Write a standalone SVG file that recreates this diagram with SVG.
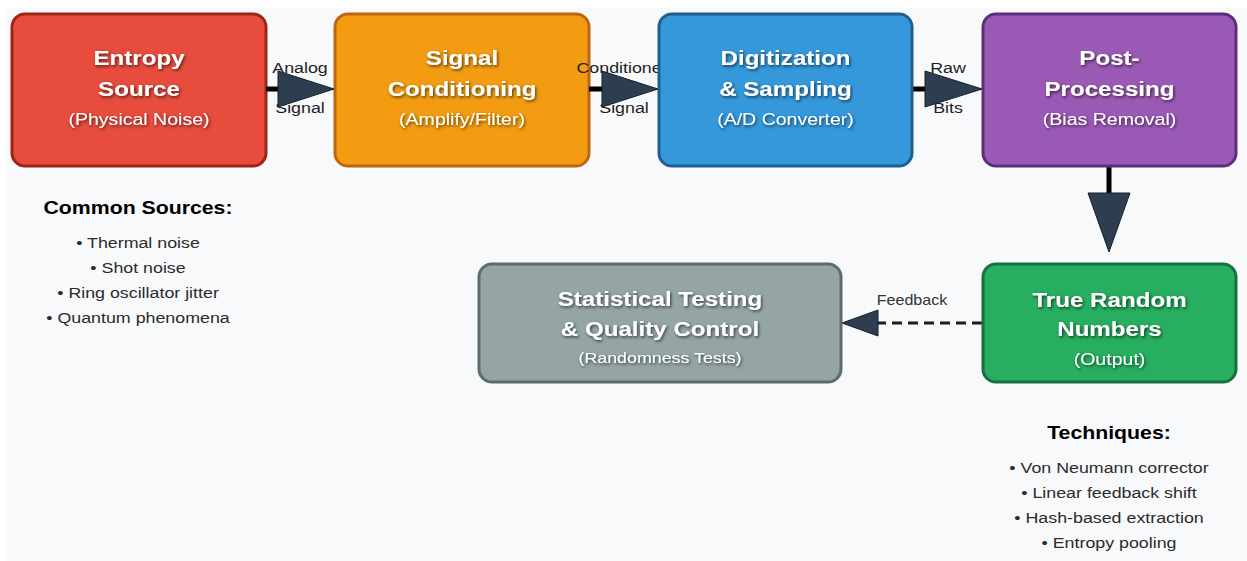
<svg xmlns="http://www.w3.org/2000/svg" width="1247" height="561" viewBox="0 0 1247 561">
  <defs>
    <filter id="txtShadow" x="-20%" y="-40%" width="140%" height="180%">
      <feDropShadow dx="1" dy="1.5" stdDeviation="1.4" flood-color="#000" flood-opacity="0.65"/>
    </filter>
    <style>
      .box { stroke-width: 3; }
      .title { font-family: "Liberation Sans", Arial, sans-serif; font-weight: bold; font-size: 21px; fill: #ffffff; text-anchor: middle; filter: url(#txtShadow); }
      .sub { font-family: "Liberation Sans", Arial, sans-serif; font-size: 17px; fill: #ffffff; text-anchor: middle; filter: url(#txtShadow); }
      .lbl { font-family: "Liberation Sans", Arial, sans-serif; font-size: 15.5px; fill: #1e1e1e; text-anchor: middle; }
      .fb { font-family: "Liberation Sans", Arial, sans-serif; font-size: 14px; fill: #333; text-anchor: middle; }
      .head { font-family: "Liberation Sans", Arial, sans-serif; font-weight: bold; font-size: 18.5px; fill: #000; text-anchor: middle; }
      .item { font-family: "Liberation Sans", Arial, sans-serif; font-size: 15.5px; fill: #2b2b2b; text-anchor: middle; }
      .wire { stroke: #000; stroke-width: 5; fill: none; }
      .dash { stroke: #1c1c1c; stroke-width: 3; stroke-dasharray: 10 6; fill: none; }
      .head-tri { fill: #2c3e50; stroke: #17202a; stroke-width: 1; stroke-linejoin: round; }
    </style>
  </defs>

  <!-- canvas -->
  <rect x="0" y="0" width="1247" height="561" fill="#ffffff"/>
  <rect x="6" y="8" width="1241" height="553" fill="#f8f9fa"/>

  <!-- Entropy source -->
  <g id="entropy-source">
    <rect class="box" x="12" y="14" width="254" height="152" rx="13" fill="#e74c3c" stroke="#9e2418"/>
    <text class="title" transform="translate(139,65) scale(1.15,1)">Entropy</text>
    <text class="title" transform="translate(139,96) scale(1.15,1)">Source</text>
    <text class="sub" transform="translate(139,125) scale(1.15,1)">(Physical Noise)</text>
  </g>

  <!-- Signal conditioning -->
  <g id="signal-conditioning">
    <rect class="box" x="335" y="14" width="254" height="152" rx="13" fill="#f39c12" stroke="#c0650f"/>
    <text class="title" transform="translate(462,65) scale(1.15,1)">Signal</text>
    <text class="title" transform="translate(462,96) scale(1.15,1)">Conditioning</text>
    <text class="sub" transform="translate(462,125) scale(1.15,1)">(Amplify/Filter)</text>
  </g>

  <!-- Connectors -->
  <g id="connectors">
    <text class="lbl" transform="translate(300,73) scale(1.15,1)">Analog</text>
    <text class="lbl" transform="translate(300,113) scale(1.15,1)">Signal</text>
    <text class="lbl" transform="translate(624,73) scale(1.15,1)">Conditioned</text>
    <text class="lbl" transform="translate(624,113) scale(1.15,1)">Signal</text>
    <text class="lbl" transform="translate(948,73) scale(1.15,1)">Raw</text>
    <text class="lbl" transform="translate(948,113) scale(1.15,1)">Bits</text>
    <text class="fb" transform="translate(912,305) scale(1.15,1)">Feedback</text>

    <line class="wire" x1="266" y1="89" x2="282" y2="89"/>
    <polygon class="head-tri" points="278,71 334,89 278,107"/>

    <line class="wire" x1="589" y1="89" x2="606" y2="89"/>
    <polygon class="head-tri" points="602,71 658,89 602,107"/>

    <line class="wire" x1="912" y1="89" x2="929" y2="89"/>
    <polygon class="head-tri" points="925,71 982,89 925,107"/>

    <line class="wire" x1="1109" y1="166" x2="1109" y2="197"/>
    <polygon class="head-tri" points="1088,193 1130,193 1109,252"/>

    <line class="dash" x1="982" y1="323" x2="878" y2="323"/>
    <polygon class="head-tri" points="878,310 878,336 842,323"/>
  </g>

  <!-- Digitization -->
  <g id="digitization">
    <rect class="box" x="659" y="14" width="253" height="152" rx="13" fill="#3498db" stroke="#1f5f8f"/>
    <text class="title" transform="translate(785.5,65) scale(1.15,1)">Digitization</text>
    <text class="title" transform="translate(785.5,96) scale(1.15,1)">&amp; Sampling</text>
    <text class="sub" transform="translate(785.5,125) scale(1.15,1)">(A/D Converter)</text>
  </g>

  <!-- Post-processing -->
  <g id="post-processing">
    <rect class="box" x="983" y="14" width="253" height="152" rx="13" fill="#9b59b6" stroke="#5e2d79"/>
    <text class="title" transform="translate(1109.5,65) scale(1.15,1)">Post-</text>
    <text class="title" transform="translate(1109.5,96) scale(1.15,1)">Processing</text>
    <text class="sub" transform="translate(1109.5,125) scale(1.15,1)">(Bias Removal)</text>
  </g>

  <!-- Output -->
  <g id="true-random">
    <rect class="box" x="983" y="264" width="253" height="118" rx="13" fill="#27ae60" stroke="#17703d"/>
    <text class="title" transform="translate(1109.5,307) scale(1.15,1)">True Random</text>
    <text class="title" transform="translate(1109.5,336) scale(1.15,1)">Numbers</text>
    <text class="sub" transform="translate(1109.5,365) scale(1.15,1)">(Output)</text>
  </g>

  <!-- Testing -->
  <g id="statistical-testing">
    <rect class="box" x="479" y="264" width="362" height="118" rx="13" fill="#95a5a6" stroke="#5c6b6c"/>
    <text class="title" transform="translate(660,306) scale(1.15,1)">Statistical Testing</text>
    <text class="title" transform="translate(660,336) scale(1.15,1)">&amp; Quality Control</text>
    <text class="sub" style="font-size:15.5px" transform="translate(660,363) scale(1.15,1)">(Randomness Tests)</text>
  </g>

  <!-- Notes -->
  <g id="common-sources">
    <text class="head" transform="translate(138,214) scale(1.15,1)">Common Sources:</text>
    <text class="item" transform="translate(138,248) scale(1.15,1)">• Thermal noise</text>
    <text class="item" transform="translate(138,273) scale(1.15,1)">• Shot noise</text>
    <text class="item" transform="translate(138,298) scale(1.15,1)">• Ring oscillator jitter</text>
    <text class="item" transform="translate(138,323) scale(1.15,1)">• Quantum phenomena</text>
  </g>

  <g id="techniques">
    <text class="head" transform="translate(1109,439) scale(1.15,1)">Techniques:</text>
    <text class="item" transform="translate(1109,473) scale(1.15,1)">• Von Neumann corrector</text>
    <text class="item" transform="translate(1109,498) scale(1.15,1)">• Linear feedback shift</text>
    <text class="item" transform="translate(1109,523) scale(1.15,1)">• Hash-based extraction</text>
    <text class="item" transform="translate(1109,548) scale(1.15,1)">• Entropy pooling</text>
  </g>
</svg>
